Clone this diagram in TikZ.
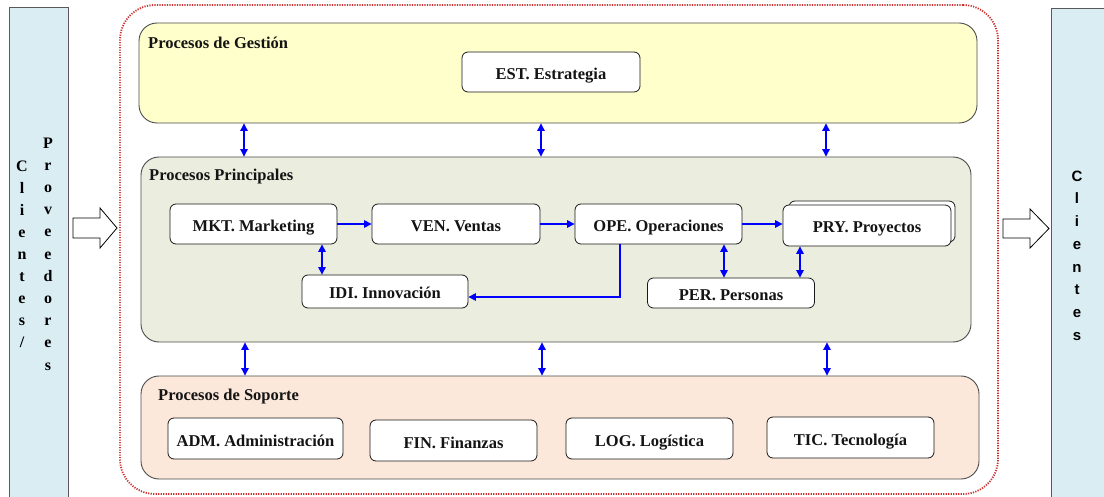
\documentclass[tikz,border=0pt]{standalone}
\usepackage{fontspec}
\setmainfont{Liberation Serif}
\newfontfamily\arialfont{Liberation Sans}
\usetikzlibrary{arrows.meta,calc}
\definecolor{gestyellow}{HTML}{FFFFCC}
\definecolor{pringreen}{HTML}{EBEEDE}
\definecolor{soppeach}{HTML}{FCE8DA}
\definecolor{barblue}{HTML}{DAEDF3}
\definecolor{reddot}{HTML}{CC3333}
\begin{document}
\begin{tikzpicture}[x=1pt,y=-1pt,
 box/.style={draw=black!90, line width=0.8pt, rounded corners=6pt, fill=white, inner sep=0pt, text=black!92, text height=15pt, text depth=0pt, font=\fontsize{16.5}{18}\selectfont\bfseries},
 area/.style={draw=black!70, line width=0.9pt, rounded corners=18pt, inner sep=0pt},
 ttl/.style={anchor=west, inner sep=0pt, text=black!92, font=\fontsize{16.5}{18}\selectfont\bfseries},
 lnk/.style={draw=blue, line width=1.1pt, -{Triangle[length=7.5pt,width=7.5pt]}},
 dbl/.style={draw=blue, line width=1.1pt, {Triangle[length=7.5pt,width=7.5pt]}-{Triangle[length=7.5pt,width=7.5pt]}},
 bar/.style={draw=black!65, fill=barblue, line width=0.9pt, inner sep=0pt},
 blockarrow/.style={draw=black, line width=0.8pt, fill=white, line join=miter}]
\clip (0,0) rectangle (1104,497);
\fill[white] (0,0) rectangle (1104,497);
% side bars
\node[bar, minimum width=59, minimum height=498] (lbar) at (38.5,256) {};
\node[bar, minimum width=59, minimum height=498] (rbar) at (1080.5,257) {};
\node[align=center, inner sep=0pt, font=\fontsize{16}{22}\selectfont\bfseries] (cli) at (22,254) {C\\l\\i\\e\\n\\t\\e\\s\\/};
\node[align=center, inner sep=0pt, font=\fontsize{16}{22.2}\selectfont\bfseries] (prov) at (48,254) {P\\r\\o\\v\\e\\e\\d\\o\\r\\e\\s};
\node[align=center, inner sep=0pt, font=\arialfont\bfseries\fontsize{15}{22.7}\selectfont] (clr) at (1077,255.5) {C\\l\\i\\e\\n\\t\\e\\s};
% block arrows
\draw[blockarrow] (73,218) -- (100,218) -- (100,208) -- (117,228) -- (100,248) -- (100,238) -- (73,238) -- cycle;
\draw[blockarrow] (1003,219) -- (1030,219) -- (1030,209) -- (1049,228.5) -- (1030,248) -- (1030,238) -- (1003,238) -- cycle;
% organisation frame
\node[draw=reddot, line width=1.8pt, dash pattern=on 1.2pt off 1.3pt, rounded corners=35pt, minimum width=878, minimum height=489, inner sep=0pt] (org) at (559,249.5) {};
% areas
\node[area, fill=gestyellow, minimum width=838, minimum height=100] (gest) at (558,73) {};
\node[area, fill=pringreen, minimum width=830, minimum height=185] (prin) at (556,249.5) {};
\node[area, fill=soppeach, minimum width=838, minimum height=103] (sop) at (560,427.5) {};
\node[ttl] (tg) at (148,43) {Procesos de Gestión};
\node[ttl] (tp) at (149,177) {Procesos Principales};
\node[ttl] (ts) at (158,397) {Procesos de Soporte};
% process boxes
\node[box, minimum width=178, minimum height=40] (est) at (551,72) {EST. Estrategia};
\node[box, minimum width=167, minimum height=40] (mkt) at (253.5,224) {MKT. Marketing};
\node[box, minimum width=168, minimum height=40] (ven) at (456,224) {VEN. Ventas};
\node[box, minimum width=167, minimum height=40] (ope) at (658.5,224) {OPE. Operaciones};
\node[box, minimum width=166, minimum height=41] (pryb) at (872,221.5) {};
\node[box, minimum width=168, minimum height=41] (pry) at (867,225.5) {PRY. Proyectos};
\node[box, minimum width=166, minimum height=33] (idi) at (385,291.5) {IDI. Innovación};
\node[box, minimum width=167, minimum height=30] (per) at (731,293) {PER. Personas};
\node[box, minimum width=175, minimum height=41] (adm) at (255.5,438.5) {ADM. Administración};
\node[box, minimum width=167, minimum height=41] (fin) at (453.5,440.5) {FIN. Finanzas};
\node[box, minimum width=167, minimum height=41] (log) at (649.5,438.5) {LOG. Logística};
\node[box, minimum width=167, minimum height=41] (tic) at (850.5,437.5) {TIC. Tecnología};
% connectors between areas
\foreach \x in {244,541,826} \draw[dbl] (gest.south -| \x,0) -- (prin.north -| \x,0);
\foreach \x in {245,542,827} \draw[dbl] (prin.south -| \x,0) -- (sop.north -| \x,0);
% connectors inside Procesos Principales
\draw[lnk] (mkt.east) -- (ven.west);
\draw[lnk] (ven.east) -- (ope.west);
\draw[lnk] (ope.east) -- (ope.east -| pry.west);
\draw[dbl] (mkt.south -| 322,0) -- (idi.north -| 322,0);
\draw[dbl] (ope.south -| 724,0) -- (per.north -| 724,0);
\draw[dbl] (pry.south -| 800,0) -- (per.north -| 800,0);
\draw[lnk] (ope.south -| 620,0) |- ($(idi.east)+(0,5.5)$);
\end{tikzpicture}
\end{document}
